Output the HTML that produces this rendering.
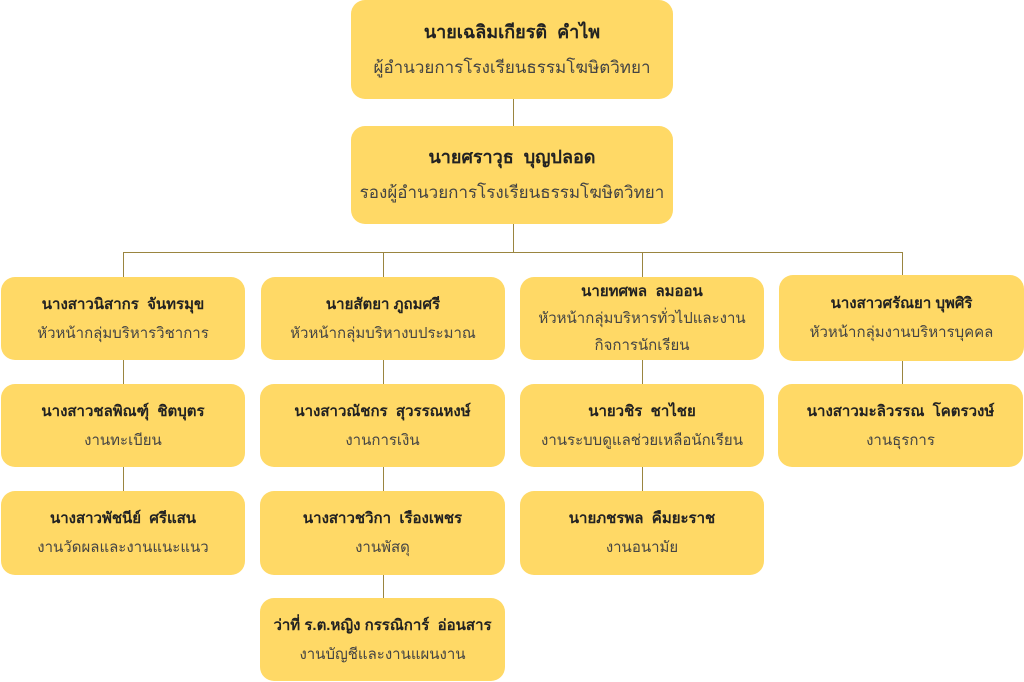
<!DOCTYPE html>
<html><head><meta charset="utf-8"><style>
body{margin:0;width:1024px;height:682px;background:#fff;position:relative;overflow:hidden;font-family:"Liberation Sans","DejaVu Sans",sans-serif;}
.b{position:absolute;background:#FFD966;border-radius:14px;display:flex;flex-direction:column;justify-content:center;align-items:center;text-align:center;color:#444;font-size:15px;line-height:29px;white-space:pre;}
.b b{color:#222;font-size:15px;}
.l{position:absolute;background:#9a8540;}
</style></head><body>
<div class="l" style="left:513px;top:99px;width:1px;height:153px"></div>
<div class="l" style="left:123px;top:252px;width:780px;height:1px"></div>
<div class="l" style="left:123px;top:252px;width:1px;height:240px"></div>
<div class="l" style="left:383px;top:252px;width:1px;height:346px"></div>
<div class="l" style="left:642px;top:252px;width:1px;height:240px"></div>
<div class="l" style="left:902px;top:252px;width:1px;height:132px"></div>

<div class="b" style="left:351px;top:0;width:322px;height:99px;font-size:17px;line-height:35px"><b style="font-size:18px">นายเฉลิมเกียรติ  คำไพ</b>ผู้อำนวยการโรงเรียนธรรมโฆษิตวิทยา</div>
<div class="b" style="left:351px;top:126px;width:322px;height:98px;font-size:17px;line-height:35px"><b style="font-size:18px">นายศราวุธ  บุญปลอด</b>รองผู้อำนวยการโรงเรียนธรรมโฆษิตวิทยา</div>

<div class="b" style="left:1px;top:277px;width:244px;height:83px"><b>นางสาวนิสากร  จันทรมุข</b>หัวหน้ากลุ่มบริหารวิชาการ</div>
<div class="b" style="left:261px;top:277px;width:244px;height:83px"><b>นายสัตยา ภูถมศรี</b>หัวหน้ากลุ่มบริหางบประมาณ</div>
<div class="b" style="left:520px;top:277px;width:244px;height:83px;line-height:27px"><b>นายทศพล  ลมออน</b>หัวหน้ากลุ่มบริหารทั่วไปและงาน
กิจการนักเรียน</div>
<div class="b" style="left:779px;top:275px;width:245px;height:86px"><b>นางสาวศรัณยา บุพศิริ</b>หัวหน้ากลุ่มงานบริหารบุคคล</div>

<div class="b" style="left:1px;top:384px;width:244px;height:83px"><b>นางสาวชลพิณฑุ์  ชิตบุตร</b>งานทะเบียน</div>
<div class="b" style="left:260px;top:384px;width:245px;height:83px"><b>นางสาวณัชกร  สุวรรณหงษ์</b>งานการเงิน</div>
<div class="b" style="left:520px;top:384px;width:244px;height:83px"><b>นายวชิร  ชาไชย</b>งานระบบดูแลช่วยเหลือนักเรียน</div>
<div class="b" style="left:778px;top:384px;width:245px;height:83px"><b>นางสาวมะลิวรรณ  โคตรวงษ์</b>งานธุรการ</div>

<div class="b" style="left:1px;top:491px;width:244px;height:84px"><b>นางสาวพัชนีย์  ศรีแสน</b>งานวัดผลและงานแนะแนว</div>
<div class="b" style="left:260px;top:491px;width:245px;height:84px"><b>นางสาวชวิกา  เรืองเพชร</b>งานพัสดุ</div>
<div class="b" style="left:520px;top:491px;width:244px;height:84px"><b>นายภชรพล  คืมยะราช</b>งานอนามัย</div>

<div class="b" style="left:260px;top:598px;width:245px;height:83px"><b>ว่าที่ ร.ต.หญิง กรรณิการ์  อ่อนสาร</b>งานบัญชีและงานแผนงาน</div>
</body></html>
